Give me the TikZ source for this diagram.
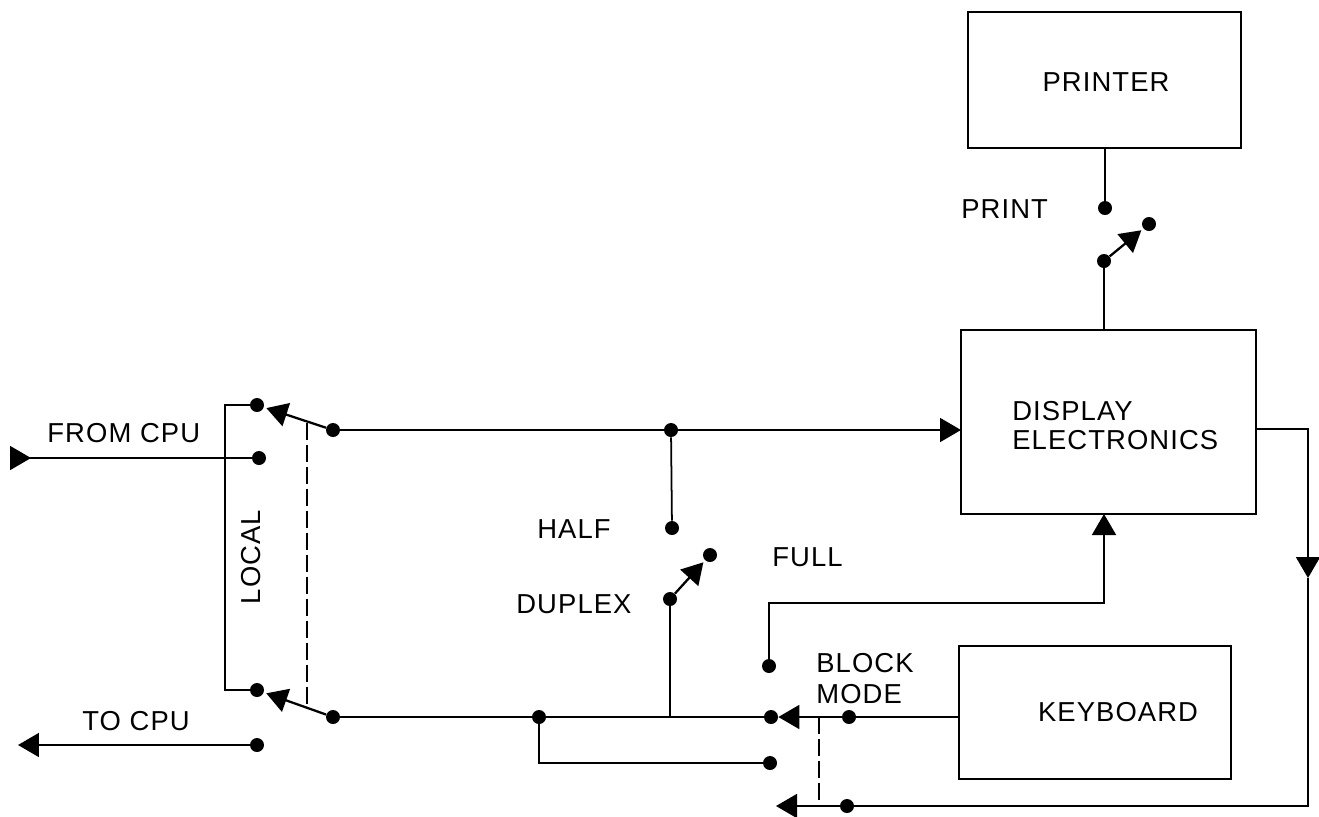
\documentclass[tikz,border=0pt]{standalone}
\usepackage{fontspec}
\setmainfont[LetterSpace=4]{Liberation Sans}
\usetikzlibrary{arrows.meta}

\tikzset{
    wire/.style={line width=1pt,line join=miter},
    tipped/.style={wire,-{Triangle[length=0.42cm,width=0.48cm]}},
    tippedback/.style={wire,-{Triangle[reversed,length=0.42cm,width=0.48cm]}},
    arm/.style={tipped,line width=1.3pt,shorten >=0.05cm},
    link/.style={line width=0.8pt,dash pattern=on 0.34cm off 0.1cm},
    termdot/.style={circle,fill=black,inner sep=0pt,minimum size=0.28cm},
    unitbox/.style={draw,line width=1pt,inner sep=0pt},
    lbl/.style={inner sep=0pt,font=\fontsize{15.6}{16.5}\selectfont},
}

\begin{document}
\begin{tikzpicture}[x=0.02cm,y=-0.02cm]
    \useasboundingbox (0,0) rectangle (1319,816);

    % Units
    \node[unitbox,minimum width=5.46cm,minimum height=2.72cm] (printer) at (1104.5,80) {};
    \node[unitbox,minimum width=5.9cm,minimum height=3.68cm] (display) at (1108.5,422) {};
    \node[unitbox,minimum width=5.44cm,minimum height=2.66cm] (keyboard) at (1095,712.5) {};

    % Contacts
    \foreach \pt/\x/\y in {prA/1105/208,prB/1149/224,prC/1104/261,
        locA/257/405,locB/259/458,locC/333/430,
        locD/257/690,locE/257/745,locF/333/717,
        dupA/671/430,dupB/672/528,dupC/710/555,dupD/670/599,
        fullA/769/666,blkA/771/717,blkB/770/763,blkC/849/717,blkD/847/806,
        spl/539/717}
        \node[termdot] (\pt) at (\x,\y) {};

    % Free ends and corners
    \coordinate (fromEnd) at (10,458);
    \coordinate (toEnd) at (18,745);
    \coordinate (retEnd) at (776,806);
    \coordinate (railA) at (225,405);
    \coordinate (railB) at (225,690);
    \coordinate (busT) at (670,717);
    \coordinate (dispIn) at (961,430);
    \coordinate (dispOut) at (1256,429);
    \coordinate (outA) at (1308,429);
    \coordinate (outB) at (1308,578);
    \coordinate (outC) at (1308,806);
    \coordinate (kbdOut) at (959,717);
    \coordinate (fullB) at (769,603);
    \coordinate (fullC) at (1104,603);
    \coordinate (fullD) at (1104,514);
    \coordinate (splB) at (539,763);
    \coordinate (prTop) at (1105,148);
    \coordinate (prBot) at (1104,330);
    \coordinate (dashA) at (307,423);
    \coordinate (dashB) at (307,708);
    \coordinate (dashC) at (819,717);
    \coordinate (dashD) at (819,806);

    % Printer switch
    \draw[wire] (prTop)--(prA);
    \draw[wire] (prC)--(prBot);
    \draw[arm] (prC)--(prB);

    % Local switch
    \draw[tippedback] (locB)--(fromEnd);
    \draw[tipped] (locE)--(toEnd);
    \draw[wire] (locA)--(railA)--(railB)--(locD);
    \draw[arm] (locC)--(locA);
    \draw[arm] (locF)--(locD);
    \draw[link] (dashA)--(dashB);

    % Main lines
    \draw[tipped] (locC)--(dispIn);
    \draw[wire] (locF)--(blkA);
    \draw[wire] (spl)--(splB)--(blkB);

    % Duplex switch
    \draw[wire] (dupA)--(dupB);
    \draw[wire] (dupD)--(busT);
    \draw[arm] (dupD)--(dupC);

    % Keyboard and block mode
    \draw[wire] (kbdOut)--(blkC);
    \draw[tipped] (blkC)--(blkA);
    \draw[tipped] (fullA)--(fullB)--(fullC)--(fullD);
    \draw[tipped] (dispOut)--(outA)--(outB);
    \draw[wire] (outB)--(outC)--(blkD);
    \draw[tipped] (blkD)--(retEnd);
    \draw[link] (dashC)--(dashD);

    % Labels
    \node[lbl] (printerlbl) at (1106,82) {PRINTER};
    \node[lbl,align=left,anchor=west] (displaylbl) at (1012,425.5) {DISPLAY\\ELECTRONICS};
    \node[lbl] (keyboardlbl) at (1118,712) {KEYBOARD};
    \node[lbl,anchor=west] (fromlbl) at (47,433) {FROM CPU};
    \node[lbl,anchor=west] (tolbl) at (82,721) {TO CPU};
    \node[lbl,rotate=90] (locallbl) at (251,557) {LOCAL};
    \node[lbl,anchor=west] (halflbl) at (537,529) {HALF};
    \node[lbl,anchor=west] (duplexlbl) at (516,604) {DUPLEX};
    \node[lbl,anchor=west] (fulllbl) at (772,557) {FULL};
    \node[lbl,anchor=west] (printlbl) at (961,209) {PRINT};
    \node[lbl,anchor=west] (blocklbl) at (816,663) {BLOCK};
    \node[lbl,anchor=west] (modelbl) at (816,694) {MODE};
\end{tikzpicture}
\end{document}
